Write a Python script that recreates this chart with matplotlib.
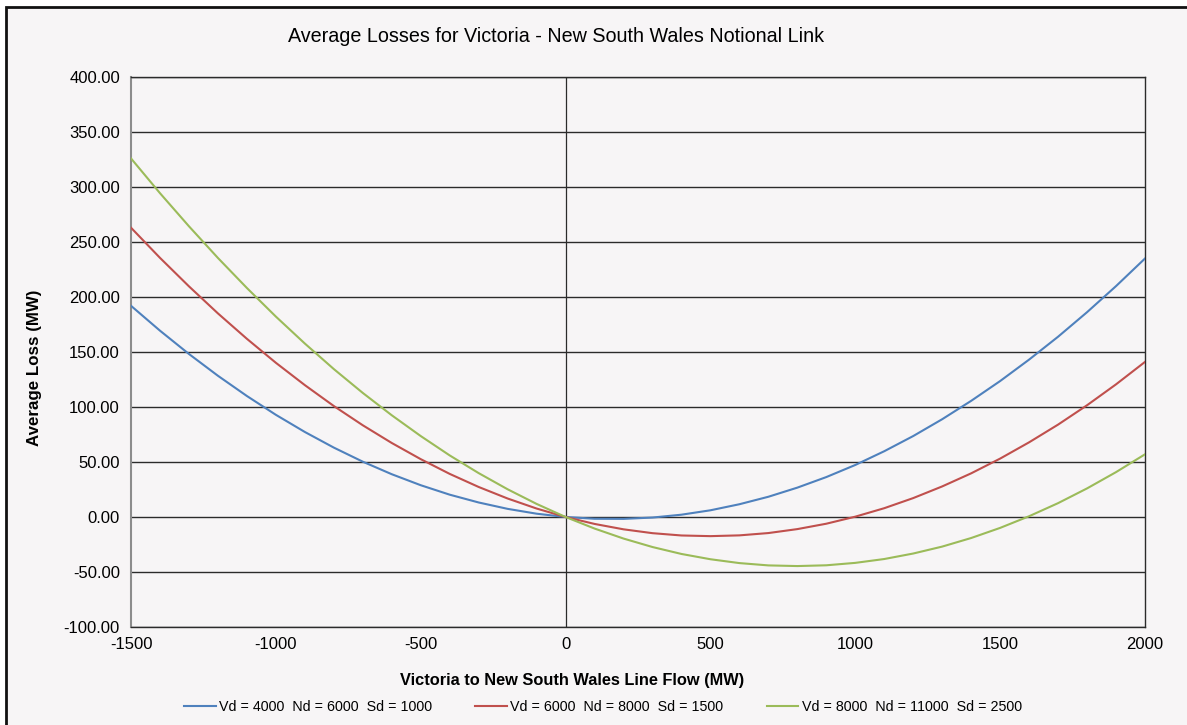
import matplotlib
matplotlib.use("Agg")
import matplotlib.pyplot as plt
from matplotlib.patches import Rectangle

plt.rcParams['font.family'] = ['Liberation Sans', 'DejaVu Sans']
plt.rcParams['axes.unicode_minus'] = False

# Line flow (MW) and average losses
flow = [-1500, -1400, -1300, -1200, -1100, -1000, -900, -800, -700, -600, -500, -400,
        -300, -200, -100, 0, 100, 200, 300, 400, 500, 600, 700, 800, 900, 1000,
        1100, 1200, 1300, 1400, 1500, 1600, 1700, 1800, 1900, 2000]
loss_low = [192.0, 169.4, 148.2, 128.4, 110.0, 92.9, 77.3, 63.1, 50.3, 38.9, 28.9, 20.3,
            13.2, 7.4, 3.0, 0.0, -1.6, -1.7, -0.5, 2.1, 6.1, 11.6, 18.4, 26.7, 36.3, 47.3,
            59.8, 73.6, 88.9, 105.6, 123.6, 143.1, 163.9, 186.2, 209.9, 235.0]
loss_mid = [263.0, 235.6, 209.7, 185.1, 162.0, 140.2, 119.9, 100.9, 83.4, 67.3, 52.6, 39.2,
            27.3, 16.8, 7.7, 0.0, -6.3, -11.2, -14.7, -16.8, -17.4, -16.7, -14.6, -11.0, -6.1, 0.3,
            8.0, 17.2, 27.8, 39.7, 53.1, 67.9, 84.0, 101.6, 120.6, 141.0]
loss_high = [326.0, 294.4, 264.3, 235.5, 208.2, 182.2, 157.7, 134.5, 112.8, 92.5, 73.6, 56.0,
             39.9, 25.2, 11.9, 0.0, -10.5, -19.6, -27.3, -33.6, -38.4, -41.9, -44.0, -44.6, -43.9, -41.7,
             -38.2, -33.2, -26.9, -19.1, -9.9, 0.7, 12.6, 26.0, 40.8, 57.0]
labels = ['Vd = 4000  Nd = 6000  Sd = 1000',
          'Vd = 6000  Nd = 8000  Sd = 1500',
          'Vd = 8000  Nd = 11000  Sd = 2500']
colors = ['#4F81BD', '#C0504D', '#9BBB59']

bg = '#f7f5f6'
W, H = 1187, 725
fig = plt.figure(figsize=(W / 100, H / 100), dpi=100, facecolor='white')

# chart frame
fig.patches.append(Rectangle((6 / W, -0.1), 1.2, 1 - 7 / H + 0.1, transform=fig.transFigure,
                             facecolor=bg, edgecolor='#111111', linewidth=2, zorder=-10))

ax = fig.add_axes([131 / W, 1 - 627 / H, (1145 - 131) / W, (627 - 77) / H])
ax.set_facecolor(bg)

for y, lab, c in zip([loss_low, loss_mid, loss_high], labels, colors):
    ax.plot(flow, y, color=c, linewidth=1.5, label=lab, zorder=3)

ax.set_xlim(-1500, 2000)
ax.set_ylim(-100, 400)
ax.set_xticks(range(-1500, 2001, 500))
ax.set_yticks(range(-100, 401, 50))
ax.set_yticklabels([f'{v:.2f}' for v in range(-100, 401, 50)])
ax.tick_params(length=0, labelsize=12, colors='black')
ax.tick_params(axis='y', pad=8)
ax.tick_params(axis='x', pad=7)
ax.grid(axis='y', color='#2b2b2b', linewidth=1)
ax.set_axisbelow(True)
ax.axvline(0, color='#2b2b2b', linewidth=0.9, zorder=2)
for s in ['top', 'right', 'bottom']:
    ax.spines[s].set_color('#2b2b2b')
    ax.spines[s].set_linewidth(1)
ax.spines['left'].set_color('#8c8c8c')
ax.spines['left'].set_linewidth(1.5)

fig.text(556 / W, 1 - 37 / H, 'Average Losses for Victoria - New South Wales Notional Link',
         ha='center', va='center', fontsize=14.2)
fig.text(572 / W, 1 - 680 / H, 'Victoria to New South Wales Line Flow (MW)',
         ha='center', va='center', fontsize=11.8, fontweight='bold')
fig.text(35 / W, 1 - 368 / H, 'Average Loss (MW)', rotation=90,
         ha='center', va='center', fontsize=12.2, fontweight='bold')

fig.legend(loc='center', bbox_to_anchor=(603 / W, 1 - 707 / H), ncol=3, frameon=False,
           fontsize=10.3, handlelength=2.2, handletextpad=0.25, columnspacing=3.0)

fig.savefig('out.png', dpi=100, facecolor='white')
